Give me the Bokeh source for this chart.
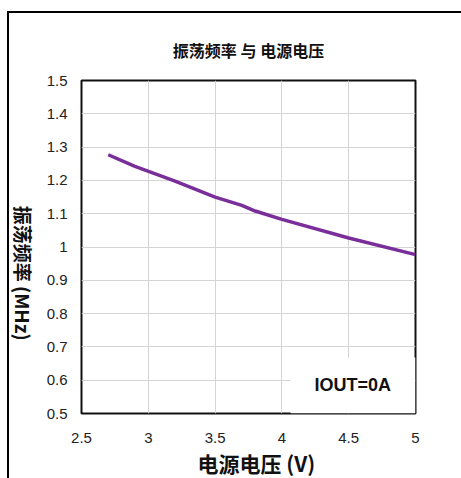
import math
from bokeh.plotting import figure
from bokeh.layouts import row
from bokeh.models import FixedTicker, Label, BoxAnnotation, Title
from bokeh.embed import file_html
from bokeh.resources import INLINE

# data
voltage = [2.7, 2.9, 3.2, 3.5, 3.7, 3.8, 4.0, 4.5, 5.0]
freq_mhz = [1.277, 1.242, 1.198, 1.150, 1.125, 1.108, 1.083, 1.027, 0.977]
x_ticks = [2.5, 3.0, 3.5, 4.0, 4.5, 5.0]
x_tick_labels = ["2.5", "3", "3.5", "4", "4.5", "5"]
y_ticks = [0.5, 0.6, 0.7, 0.8, 0.9, 1.0, 1.1, 1.2, 1.3, 1.4, 1.5]
y_tick_labels = ["0.5", "0.6", "0.7", "0.8", "0.9", "1", "1.1", "1.2", "1.3", "1.4", "1.5"]
title_text = "振荡频率 与 电源电压"
x_label = "电源电压 (V)"
y_label = "振荡频率 (MHz)"
note_text = "IOUT=0A"

CJK = "Noto Sans CJK SC"
NUM = "Liberation Sans"
H = 465

# narrow strip holding the rotated y-axis title
side = figure(width=30, height=H, x_range=(0, 30), y_range=(0, H),
              output_backend="svg", toolbar_location=None,
              x_axis_location=None, y_axis_location=None,
              min_border_left=0, min_border_right=0, min_border_top=0, min_border_bottom=0)
side.grid.visible = False
side.outline_line_color = None
side.add_layout(Label(x=14, y=196, text=y_label, text_font=CJK, text_font_size="19px",
                      text_font_style="bold", text_align="center", text_baseline="middle",
                      angle=-math.pi / 2, text_color="#111111"))

p = figure(width=422, height=H, x_range=(2.5, 5), y_range=(0.5, 1.5),
           output_backend="svg", toolbar_location=None,
           min_border_left=42, min_border_right=46, min_border_top=67, min_border_bottom=65)

p.title = Title(text=title_text, align="center", text_font=CJK, text_font_size="16px",
                text_font_style="bold", text_color="#111111", standoff=38)

p.line(voltage, freq_mhz, line_color="#7A2E9A", line_width=3.5)

p.add_layout(BoxAnnotation(left=4.065, right=5.0, bottom=0.5, top=0.668,
                           fill_color="white", fill_alpha=1.0, line_color=None, level="underlay"))

p.xaxis.ticker = FixedTicker(ticks=x_ticks)
p.yaxis.ticker = FixedTicker(ticks=y_ticks)
p.xaxis.major_label_overrides = dict(zip(x_ticks, x_tick_labels))
p.yaxis.major_label_overrides = dict(zip(y_ticks, y_tick_labels))
for ax in (p.xaxis, p.yaxis):
    ax.axis_line_color = None
    ax.major_tick_line_color = None
    ax.minor_tick_line_color = None
    ax.major_tick_out = 0
    ax.major_tick_in = 0
    ax.minor_tick_out = 0
    ax.minor_tick_in = 0
    ax.major_label_text_font = NUM
    ax.major_label_text_font_size = "15px"
    ax.major_label_text_color = "#222222"
p.xaxis.major_label_standoff = 19
p.yaxis.major_label_standoff = 14

p.add_layout(Title(text=x_label, align="left", offset=116, text_font=CJK,
                   text_font_size="21px", text_font_style="bold", text_color="#111111",
                   standoff=0), "below")

p.xgrid.ticker = FixedTicker(ticks=x_ticks)
p.ygrid.ticker = FixedTicker(ticks=y_ticks)
p.grid.grid_line_color = "#d4d4d4"
p.grid.grid_line_width = 1

p.outline_line_color = "#111111"
p.outline_line_width = 2
p.outline_line_alpha = 1.0

p.add_layout(Label(x=4.53, y=0.585, text=note_text, text_font=NUM, text_font_size="18px",
                   text_font_style="bold", text_align="center", text_baseline="middle",
                   text_color="#111111"))

layout = row(side, p, spacing=0)
layout.styles = {"margin-left": "7px", "margin-top": "11px",
                 "border-top": "2px solid black", "border-left": "2px solid black"}

open("out.html", "w").write(file_html(layout, INLINE))
